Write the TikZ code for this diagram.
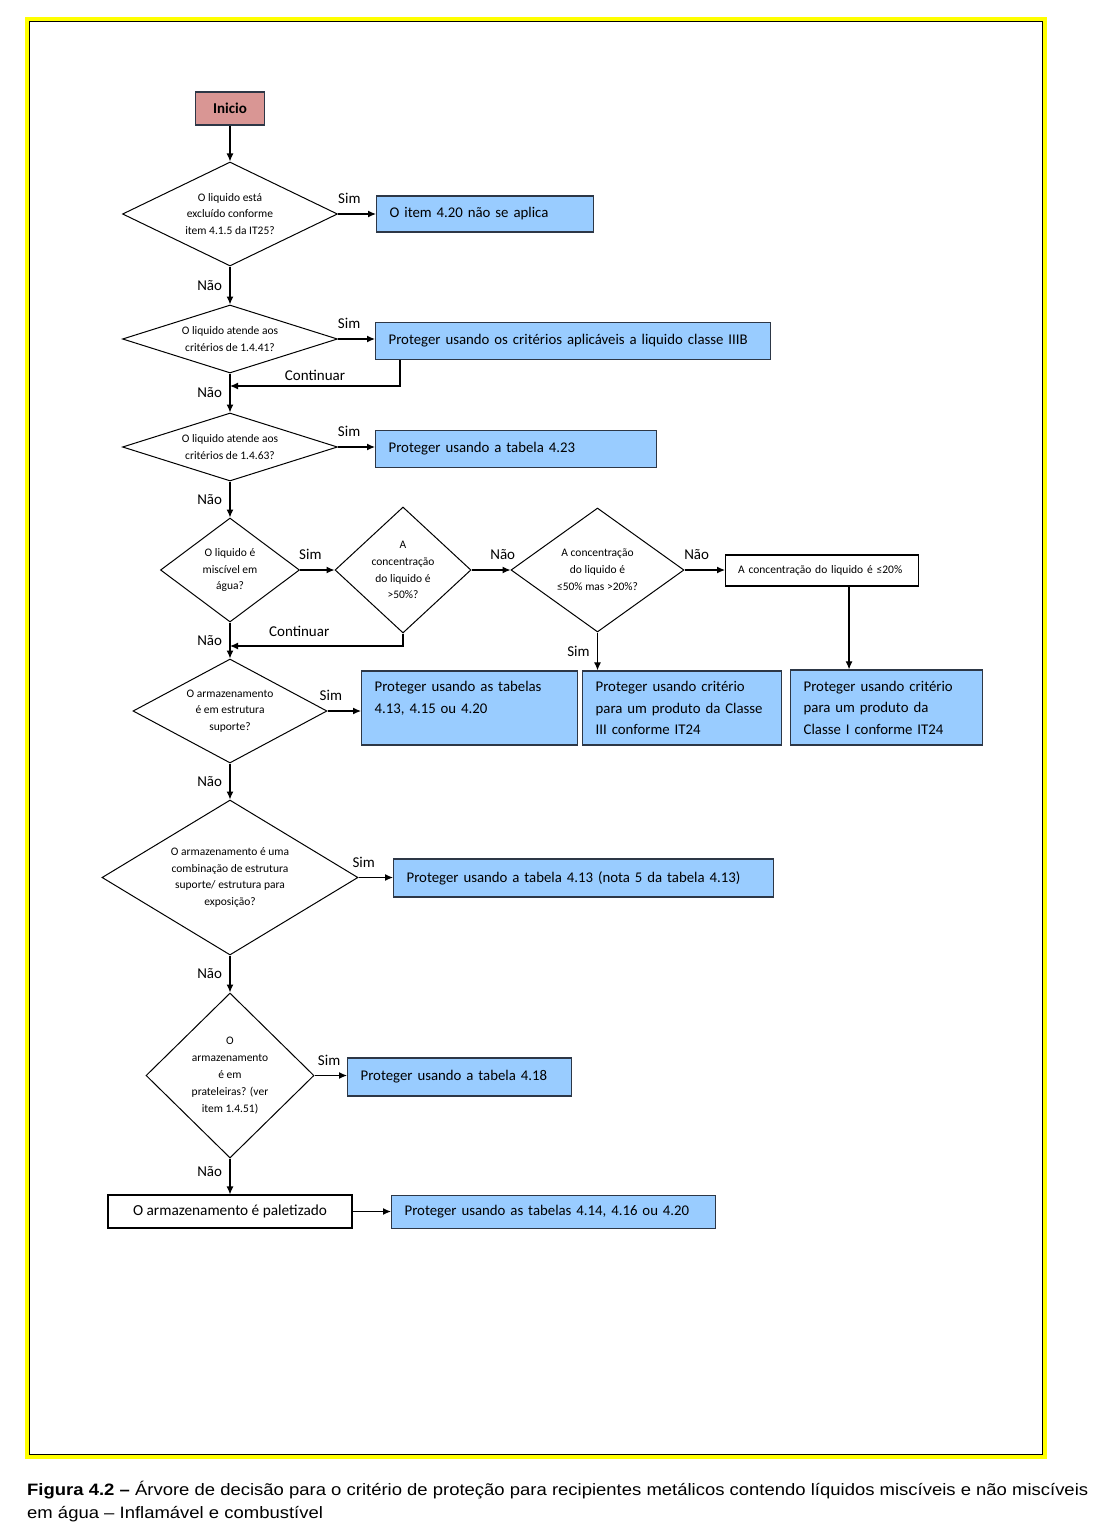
\documentclass[tikz,border=0pt]{standalone}
\usepackage{fontspec}
\setmainfont{Carlito}
\newfontfamily\capfont[FakeStretch=1.12]{Liberation Sans}
\usepackage{tikz}
\definecolor{colorStart}{RGB}{217,150,148}
\definecolor{colorRes}{RGB}{153,204,255}
\definecolor{colorEdge}{RGB}{45,55,70}
\definecolor{colorFrame}{RGB}{255,255,0}
\usetikzlibrary{arrows.meta}
\usetikzlibrary{shapes.geometric}
\tikzset{
   every path/.style={>={Latex[length=8pt,width=7pt]}},
   flow/.style={->,line width=1.2pt,color=black},
   start/.style={rectangle,draw=colorEdge,line width=1.3pt,fill=colorStart,minimum width=69pt,minimum height=33pt,font=\fontsize{15}{17}\selectfont\bfseries},
   ask/.style={diamond,draw,line width=1pt,inner sep=0pt,align=center,font=\fontsize{11.5}{16.8}\selectfont},
   res/.style={rectangle,draw=colorEdge,line width=1.3pt,fill=colorRes,anchor=west,align=left,inner xsep=13pt,font=\fontsize{14.8}{21.5}\selectfont},
   whitebox/.style={rectangle,draw,line width=1.1pt,fill=white,anchor=west,align=left,inner xsep=12.5pt},
   yes/.style={pos=0.3,above=6pt,font=\fontsize{15}{17}\selectfont},
   no/.style={left=4pt,font=\fontsize{15}{17}\selectfont},
   cont/.style={pos=0.75,above=1pt,font=\fontsize{15}{17}\selectfont},
}

\begin{document}
\begin{tikzpicture}[x=1pt,y=-1pt]
        \useasboundingbox (0,0) rectangle (1111,1538);

        % frame
        \draw[colorFrame,line width=4pt] (27,19) rectangle (1045,1457);
        \draw[black,line width=1.3pt] (29.5,21.5) rectangle (1042.5,1454.5);

        \node[start] (start) at (230,108.5) {Inicio};

        \node[ask,minimum width=215pt,minimum height=104pt,shape aspect=2] (q1) at (230,214) {O liquido está\\excluído conforme\\item 4.1.5 da IT25?};
        \node[res,minimum width=217pt,minimum height=36pt,text width=191pt] (r1) at (376,214) {O item 4.20 não se aplica};

        \node[ask,minimum width=215pt,minimum height=68pt,shape aspect=3.2] (q2) at (230,339) {O liquido atende aos\\critérios de 1.4.41?};
        \node[res,minimum width=395pt,minimum height=37pt,text width=369pt] (r2) at (375,341) {Proteger usando os critérios aplicáveis a liquido classe IIIB};

        \node[ask,minimum width=215pt,minimum height=68pt,shape aspect=3.2] (q3) at (230,447) {O liquido atende aos\\critérios de 1.4.63?};
        \node[res,minimum width=281pt,minimum height=37pt,text width=255pt] (r3) at (375,449) {Proteger usando a tabela 4.23};

        \node[ask,minimum width=139pt,minimum height=104pt,shape aspect=1.3] (q4) at (230,570) {O liquido é\\miscível em\\água?};
        \node[ask,minimum width=136pt,minimum height=126pt,shape aspect=1.1] (q5) at (403,570) {A\\concentração\\do liquido é\\>50\%?};
        \node[ask,minimum width=173pt,minimum height=124pt,shape aspect=1.4] (q6) at (597.5,570) {A concentração\\do liquido é\\≤50\% mas >20\%?};
        \node[whitebox,minimum width=193pt,minimum height=31pt,text width=168pt,font=\fontsize{11.5}{13}\selectfont] (c20) at (725,570.5) {A concentração do liquido é ≤20\%};

        \node[ask,minimum width=194pt,minimum height=104pt,shape aspect=1.9] (q7) at (230,711) {O armazenamento\\é em estrutura\\suporte?};
        \node[res,minimum width=216pt,minimum height=74pt,text width=190pt] (rA) at (361,708) {Proteger usando as tabelas\\4.13, 4.15 ou 4.20\\\mbox{}};
        \node[res,minimum width=199pt,minimum height=74pt,text width=173pt] (rB) at (582,708) {Proteger usando critério\\para um produto da Classe\\III conforme IT24};
        \node[res,minimum width=192pt,minimum height=75pt,text width=166pt] (rC) at (790,707.5) {Proteger usando critério\\para um produto da\\Classe I conforme IT24};

        \node[ask,minimum width=256pt,minimum height=155pt,shape aspect=1.65] (q8) at (230,877.5) {O armazenamento é uma\\combinação de estrutura\\suporte/ estrutura para\\exposição?};
        \node[res,minimum width=380pt,minimum height=38pt,text width=354pt] (r8) at (393,878) {Proteger usando a tabela 4.13 (nota 5 da tabela 4.13)};

        \node[ask,minimum width=168pt,minimum height=165pt,shape aspect=1.02] (q9) at (230,1075.5) {O\\armazenamento\\é em\\prateleiras? (ver\\item 1.4.51)};
        \node[res,minimum width=224pt,minimum height=38pt,text width=198pt] (r9) at (347,1077) {Proteger usando a tabela 4.18};

        \node[whitebox,anchor=center,minimum width=244pt,minimum height=33pt,align=center,font=\fontsize{15.3}{17}\selectfont] (pal) at (230,1211.5) {O armazenamento é paletizado};
        \node[res,minimum width=324pt,minimum height=33pt,text width=298pt] (r11) at (391,1212) {Proteger usando as tabelas 4.14, 4.16 ou 4.20};

        \draw[flow] (start) -- (q1);
        \draw[flow] (q1.east) -- node[yes] {Sim} (q1.east -| r1.west);
        \draw[flow] (q1) -- node[no] {Não} (q2);

        \draw[flow] (q2.east) -- node[yes] {Sim} (q2.east -| r2.west);
        \coordinate (j1) at (230,386);
        \draw[flow] ([xshift=25pt]r2.south west) |- node[cont] {Continuar} (j1);
        \draw[flow] (q2) -- node[no] {Não} (q3);

        \draw[flow] (q3.east) -- node[yes] {Sim} (q3.east -| r3.west);
        \draw[flow] (q3) -- node[no] {Não} (q4);

        \draw[flow] (q4) -- node[yes] {Sim} (q5);
        \draw[flow] (q5) -- node[yes,pos=0.8] {Não} (q6);
        \draw[flow] (q6.east) -- node[yes] {Não} (q6.east -| c20.west);
        \coordinate (j2) at (230,646);
        \draw[flow] (q5.south) |- node[cont,pos=0.8,above=4pt] {Continuar} (j2);
        \draw[flow] (q6.south) -- node[no] {Sim} (q6.south |- rB.north);
        \draw[flow] ([xshift=27pt]c20.south) -- ([xshift=27pt]c20.south |- rC.north);
        \draw[flow] (q4) -- node[no] {Não} (q7);

        \draw[flow] (q7.east) -- node[yes,pos=0.1] {Sim} (q7.east -| rA.west);
        \draw[flow] (q7) -- node[no] {Não} (q8);

        \draw[flow] (q8.east) -- node[yes,pos=0.15] {Sim} (q8.east -| r8.west);
        \draw[flow] (q8) -- node[no] {Não} (q9);

        \draw[flow] (q9.east) -- node[yes,pos=0.45] {Sim} (q9.east -| r9.west);
        \draw[flow] (q9) -- node[no,pos=0.35,left=0pt] {Não} (pal);
        \draw[flow] (pal.east) -- (pal.east -| r11.west);

        % caption
        \node[anchor=base west,inner sep=0pt,font=\capfont\fontsize{16.5}{24}\selectfont] (cap1) at (27,1495) {\textbf{Figura 4.2 –} Árvore de decisão para o critério de proteção para recipientes metálicos contendo líquidos miscíveis e não miscíveis};
        \node[anchor=base west,inner sep=0pt,font=\capfont\fontsize{16.5}{24}\selectfont] (cap2) at (27,1518) {em água – Inflamável e combustível};

      \end{tikzpicture}
\end{document}
